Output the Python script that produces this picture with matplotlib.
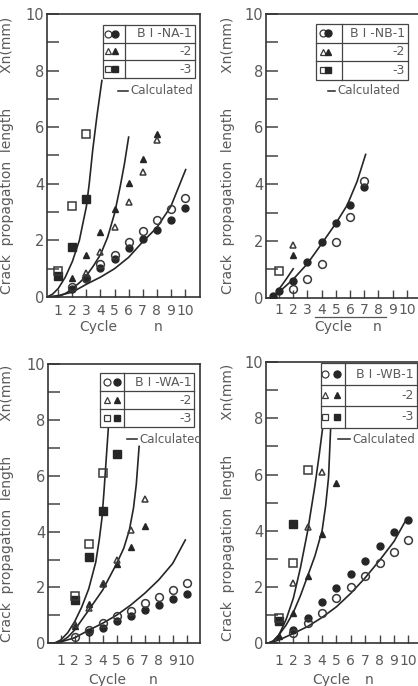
import matplotlib
matplotlib.use("Agg")
import matplotlib.pyplot as plt
from matplotlib import font_manager
from matplotlib.patches import Rectangle

# ---- data ----
cycles = [1, 2, 3, 4, 5, 6, 7, 8, 9, 10]
y_ticks = [0, 2, 4, 6, 8, 10]

# panel BI-NA
na_o1_x = [2, 3, 4, 5, 6, 7, 8, 9, 10]
na_o1_y = [0.35, 0.68, 1.15, 1.47, 1.95, 2.33, 2.72, 3.12, 3.5]
na_f1_x = [2, 3, 4, 5, 6, 7, 8, 9, 10]
na_f1_y = [0.28, 0.62, 1.02, 1.35, 1.74, 2.05, 2.38, 2.73, 3.14]
na_o2_x = [3, 4, 5, 6, 7, 8]
na_o2_y = [0.85, 1.58, 2.47, 3.37, 4.42, 5.55]
na_f2_x = [2, 3, 4, 5, 6, 7, 8]
na_f2_y = [0.68, 1.5, 2.28, 3.1, 4.03, 4.87, 5.75]
na_o3_x = [1, 2, 3]
na_o3_y = [0.93, 3.2, 5.75]
na_f3_x = [1, 2, 3]
na_f3_y = [0.75, 1.75, 3.45]
na_c1_x = [0.2, 1.0, 2.0, 3.0, 4.0, 5.0, 6.0, 7.0, 8.0, 9.0, 10.05]
na_c1_y = [0.0, 0.05, 0.17, 0.45, 0.7, 1.0, 1.4, 1.95, 2.45, 3.2, 4.5]
na_c2_x = [0.8, 1.2, 1.6, 2.0, 2.5, 3.0, 3.5, 4.0, 4.5, 5.0, 5.4, 5.7, 6.0]
na_c2_y = [0.0, 0.05, 0.15, 0.3, 0.5, 0.75, 1.1, 1.5, 2.1, 2.95, 3.9, 4.7, 5.65]
na_c3_x = [0.2, 0.6, 1.0, 1.5, 2.0, 2.5, 3.0, 3.2, 3.45, 3.75, 4.1]
na_c3_y = [0.0, 0.1, 0.3, 0.7, 1.25, 2.0, 3.2, 4.0, 5.2, 6.4, 7.65]

# panel BI-NB
nb_o1_x = [2, 3, 4, 5, 6, 7]
nb_o1_y = [0.3, 0.65, 1.2, 1.97, 2.85, 4.1]
nb_f1_x = [0.6, 1, 2, 3, 4, 5, 6, 7]
nb_f1_y = [0.05, 0.25, 0.6, 1.25, 1.95, 2.63, 3.27, 3.9]
nb_o2_x = [2]
nb_o2_y = [1.85]
nb_f2_x = [2]
nb_f2_y = [1.5]
nb_o3_x = [1]
nb_o3_y = [0.95]
nb_f3_x = []
nb_f3_y = []
nb_c1_x = [0.4, 1.0, 2.0, 3.0, 4.0, 5.0, 5.8, 6.5, 7.1]
nb_c1_y = [0.0, 0.2, 0.65, 1.2, 1.9, 2.62, 3.26, 4.1, 5.05]
nb_c2_x = [0.7, 1.0, 1.5, 2.0]
nb_c2_y = [0.08, 0.3, 0.65, 1.02]

# panel BI-WA
wa_o1_x = [2, 3, 4, 5, 6, 7, 8, 9, 10]
wa_o1_y = [0.22, 0.48, 0.72, 0.99, 1.17, 1.43, 1.67, 1.91, 2.17]
wa_f1_x = [3, 4, 5, 6, 7, 8, 9, 10]
wa_f1_y = [0.42, 0.56, 0.8, 0.97, 1.18, 1.37, 1.58, 1.77]
wa_o2_x = [2, 3, 4, 5, 6, 7]
wa_o2_y = [0.68, 1.28, 2.12, 2.98, 4.06, 5.15]
wa_f2_x = [2, 3, 4, 5, 6, 7]
wa_f2_y = [0.62, 1.4, 2.15, 2.85, 3.45, 4.2]
wa_o3_x = [2, 3, 4]
wa_o3_y = [1.71, 3.56, 6.08]
wa_f3_x = [2, 3, 4, 5]
wa_f3_y = [1.55, 3.08, 4.75, 6.78]
wa_c1_x = [0.4, 1.0, 2.0, 3.0, 4.0, 5.0, 6.0, 7.0, 8.0, 9.0, 9.9]
wa_c1_y = [0.0, 0.05, 0.2, 0.47, 0.72, 1.01, 1.37, 1.79, 2.27, 2.86, 3.7]
wa_c2_x = [0.6, 1.0, 1.5, 2.0, 3.0, 4.0, 5.0, 5.5, 5.9, 6.2, 6.4, 6.6]
wa_c2_y = [0.0, 0.05, 0.22, 0.48, 1.19, 1.91, 2.86, 3.4, 4.05, 4.85, 5.7, 7.05]
wa_c3_x = [0.1, 0.6, 1.0, 1.5, 2.0, 2.5, 3.0, 3.5, 3.75, 3.95, 4.1, 4.25, 4.4]
wa_c3_y = [0.0, 0.02, 0.12, 0.38, 0.78, 1.3, 1.95, 2.9, 3.7, 4.5, 5.5, 6.6, 7.7]

# panel BI-WB
wb_o1_x = [2, 3, 4, 5, 6, 7, 8, 9, 10]
wb_o1_y = [0.36, 0.71, 1.09, 1.6, 2.0, 2.4, 2.86, 3.25, 3.68]
wb_f1_x = [2, 3, 4, 5, 6, 7, 8, 9, 10]
wb_f1_y = [0.47, 0.9, 1.47, 1.96, 2.45, 2.92, 3.46, 3.95, 4.4]
wb_o2_x = [2, 3, 4]
wb_o2_y = [2.15, 4.15, 6.1]
wb_f2_x = [1, 2, 3, 4, 5]
wb_f2_y = [0.25, 1.07, 2.4, 3.9, 5.7]
wb_o3_x = [1, 2, 3]
wb_o3_y = [0.9, 2.86, 6.15]
wb_f3_x = [1, 2]
wb_f3_y = [0.78, 4.25]
wb_c1_x = [0.3, 1.0, 2.0, 3.0, 4.0, 5.0, 6.0, 7.0, 8.0, 9.0, 9.8]
wb_c1_y = [0.0, 0.12, 0.35, 0.6, 0.92, 1.3, 1.78, 2.33, 2.95, 3.62, 4.35]
wb_c2_x = [0.2, 0.6, 1.0, 1.5, 2.0, 2.5, 3.0, 3.5, 4.0, 4.25, 4.45, 4.6]
wb_c2_y = [0.0, 0.08, 0.3, 0.65, 1.1, 1.7, 2.4, 3.1, 4.0, 4.9, 5.9, 7.7]
wb_c3_x = [0.2, 0.6, 1.0, 1.5, 2.0, 2.5, 3.0, 3.5, 3.8, 4.05]
wb_c3_y = [0.0, 0.08, 0.3, 0.85, 1.6, 2.7, 4.0, 5.6, 6.7, 7.7]

names = {f.name for f in font_manager.fontManager.ttflist}
NARROW = 'Liberation Sans Narrow' if 'Liberation Sans Narrow' in names else 'DejaVu Sans'
TXT = '#5a5a5a'
INK = '#262626'

plt.rcParams['font.family'] = [NARROW, 'DejaVu Sans']

fig = plt.figure(figsize=(4.18, 6.86), dpi=100)
fig.patch.set_facecolor('white')


def draw_panel(ax, xlim, series, curves, xpad):
    ax.set_xlim(*xlim)
    ax.set_ylim(0, 10)
    # calculated curves
    for cx, cy in curves:
        ax.plot(cx, cy, color=INK, lw=1.2, zorder=2)
    # measured points: (x, y, marker, filled)
    for x, y, m, filled in series:
        if not x:
            continue
        size = {'o': 5.6, '^': 5.0, 's': 6.2}[m]
        if filled:
            ax.plot(x, y, ls='none', marker=m, ms=size - 0.6, mfc=INK, mec=INK, zorder=3)
        else:
            ax.plot(x, y, ls='none', marker=m, ms=size, mfc='none', mec='#3a3a3a',
                    mew=1.1, zorder=4)
    ax.set_xticks(cycles)
    ax.set_yticks(y_ticks)
    ax.set_yticks([1, 3, 5, 7, 9], minor=True)
    ax.tick_params(axis='y', which='both', direction='in', length=8.5, width=1.1,
                   color='#444444', labelsize=10.5, labelcolor=TXT, pad=2)
    ax.tick_params(axis='x', direction='in', length=5.5, width=1.0, color='#444444',
                   labelsize=10, labelcolor=TXT, pad=xpad)
    for s in ax.spines.values():
        s.set_linewidth(1.2)
        s.set_color('#333333')


def draw_key(ax, box, xdiv, mo, mf, label, calc):
    x0, x1, y0, y1 = box
    h = (y1 - y0) / 3.0
    ax.add_patch(Rectangle((x0, y0), x1 - x0, y1 - y0, transform=ax.transAxes,
                           fc='white', ec='#444444', lw=0.9, zorder=6, clip_on=False))
    for i in (1, 2):
        ax.plot([x0, x1], [y1 - i * h] * 2, transform=ax.transAxes, color='#444444',
                lw=0.9, zorder=7, clip_on=False)
    ax.plot([xdiv, xdiv], [y0, y1], transform=ax.transAxes, color='#444444', lw=0.9,
            zorder=7, clip_on=False)
    texts = [label, '-2', '-3']
    marks = ['o', '^', 's']
    for i in range(3):
        yc = y1 - (i + 0.5) * h
        ax.plot([mo], [yc], transform=ax.transAxes, marker=marks[i], ms=5.0, mfc='none',
                mec='#3a3a3a', mew=0.9, zorder=8, clip_on=False)
        ax.plot([mf], [yc], transform=ax.transAxes, marker=marks[i], ms=5.0, mfc=INK,
                mec=INK, zorder=8, clip_on=False)
        ax.text(x1 - 0.02, yc, texts[i], transform=ax.transAxes, ha='right', va='center',
                fontsize=9, color=TXT, zorder=8)
    lx0, lx1, ly = calc
    ax.plot([lx0, lx1], [ly, ly], transform=ax.transAxes, color=INK, lw=1.1, zorder=8)
    ax.text(lx1 + 0.015, ly, 'Calculated', transform=ax.transAxes, ha='left',
            va='center', fontsize=8.5, color=TXT, zorder=8)


def draw_labels(ax, ylab_x, cycle_x, n_x, lab_y):
    ax.set_ylabel('Crack  propagation  length        Xn(mm)', fontsize=10, color=TXT)
    ax.yaxis.set_label_coords(ylab_x, 0.5)
    ax.text(cycle_x, lab_y, 'Cycle', transform=ax.transAxes, ha='center', va='center',
            fontsize=10, color=TXT)
    ax.text(n_x, lab_y, 'n', transform=ax.transAxes, ha='center', va='center',
            fontsize=10, color=TXT)


# top left: BI-NA
ax1 = fig.add_axes([0.1124, 0.5671, 0.3661, 0.4125])
draw_panel(ax1, (0.2, 11.07),
           [(na_f1_x, na_f1_y, 'o', True), (na_o1_x, na_o1_y, 'o', False),
            (na_f2_x, na_f2_y, '^', True), (na_o2_x, na_o2_y, '^', False),
            (na_f3_x, na_f3_y, 's', True), (na_o3_x, na_o3_y, 's', False)],
           [(na_c1_x, na_c1_y), (na_c2_x, na_c2_y), (na_c3_x, na_c3_y)], 5)
draw_key(ax1, (0.366, 0.967, 0.774, 0.961), 0.51, 0.40, 0.446, 'B I -NA-1',
         (0.464, 0.53, 0.729))
draw_labels(ax1, -0.216, 0.333, 0.725, -0.106)

# top right: BI-NB (cut at the right edge of the scan)
ax2 = fig.add_axes([0.6364, 0.566, 0.3732, 0.4136])
draw_panel(ax2, (0.085, 11.07),
           [(nb_f1_x, nb_f1_y, 'o', True), (nb_o1_x, nb_o1_y, 'o', False),
            (nb_f2_x, nb_f2_y, '^', True), (nb_o2_x, nb_o2_y, '^', False),
            (nb_f3_x, nb_f3_y, 's', True), (nb_o3_x, nb_o3_y, 's', False)],
           [(nb_c1_x, nb_c1_y), (nb_c2_x, nb_c2_y)], 4)
draw_key(ax2, (0.32, 0.91, 0.769, 0.964), 0.485, 0.363, 0.40, 'B I -NB-1',
         (0.40, 0.44, 0.73))
draw_labels(ax2, -0.20, 0.428, 0.71, -0.103)
# the scan shows a rule drawn above the axis title
ax2.plot([0.314, 0.77], [-0.069, -0.069], transform=ax2.transAxes, color='#555555',
         lw=0.9, clip_on=False)

# bottom left: BI-WA
ax3 = fig.add_axes([0.1148, 0.0622, 0.3637, 0.4072])
draw_panel(ax3, (0.09, 10.95),
           [(wa_f1_x, wa_f1_y, 'o', True), (wa_o1_x, wa_o1_y, 'o', False),
            (wa_f2_x, wa_f2_y, '^', True), (wa_o2_x, wa_o2_y, '^', False),
            (wa_f3_x, wa_f3_y, 's', True), (wa_o3_x, wa_o3_y, 's', False)],
           [(wa_c1_x, wa_c1_y), (wa_c2_x, wa_c2_y), (wa_c3_x, wa_c3_y)], 8)
draw_key(ax3, (0.34, 0.963, 0.773, 0.967), 0.50, 0.386, 0.456, 'B I -WA-1',
         (0.52, 0.583, 0.73))
draw_labels(ax3, -0.224, 0.391, 0.69, -0.131)

# bottom right: BI-WB
ax4 = fig.add_axes([0.6364, 0.0622, 0.3766, 0.4101])
draw_panel(ax4, (0.1, 11.05),
           [(wb_f1_x, wb_f1_y, 'o', True), (wb_o1_x, wb_o1_y, 'o', False),
            (wb_f2_x, wb_f2_y, '^', True), (wb_o2_x, wb_o2_y, '^', False),
            (wb_f3_x, wb_f3_y, 's', True), (wb_o3_x, wb_o3_y, 's', False)],
           [(wb_c1_x, wb_c1_y), (wb_c2_x, wb_c2_y), (wb_c3_x, wb_c3_y)], 8)
draw_key(ax4, (0.35, 0.958, 0.767, 0.995), 0.50, 0.375, 0.45, 'B I -WB-1',
         (0.46, 0.535, 0.725))
draw_labels(ax4, -0.197, 0.413, 0.654, -0.13)

fig.savefig('out.png', dpi=100, facecolor='white')
